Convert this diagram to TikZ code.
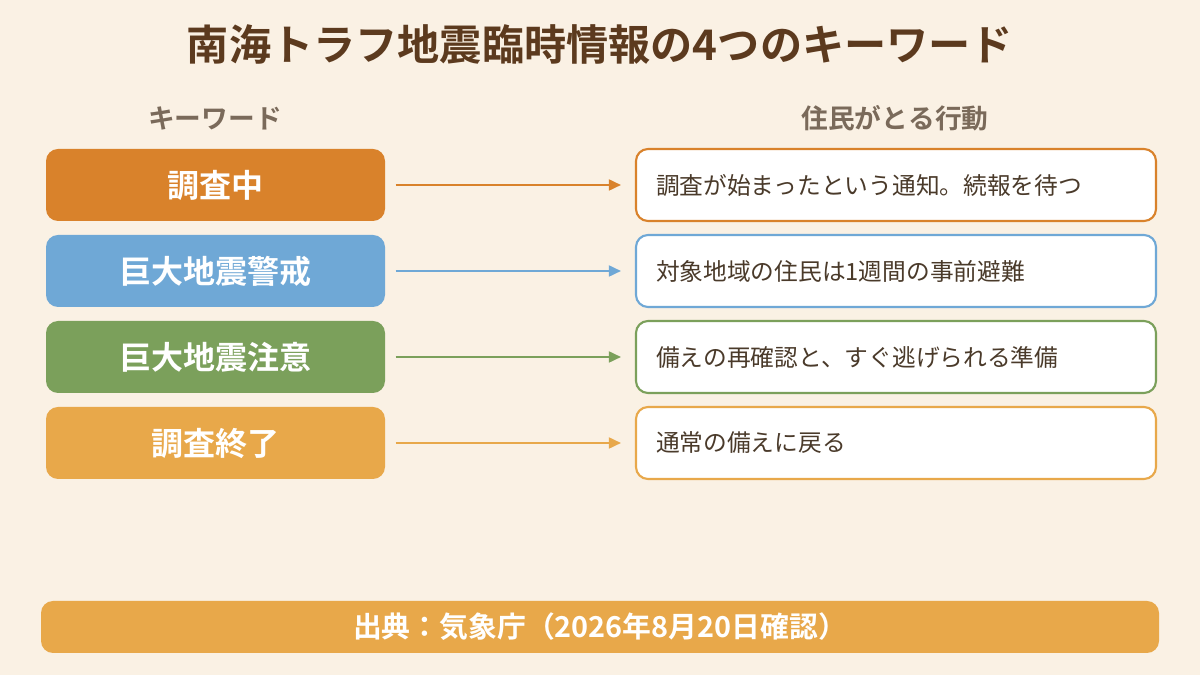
\documentclass[tikz,border=0pt]{standalone}
\usepackage{fontspec}
\setmainfont{Noto Sans CJK JP}
\newfontfamily\jpbold{Noto Sans CJK JP Bold}
\usetikzlibrary{positioning,arrows.meta}
\definecolor{bgcream}{HTML}{FAF1E4}
\definecolor{titlebrown}{HTML}{5C3A1E}
\definecolor{headgray}{HTML}{7A6A5A}
\definecolor{textdark}{HTML}{4A3A2A}
\definecolor{kworange}{HTML}{D9822B}
\definecolor{kwblue}{HTML}{6FA8D6}
\definecolor{kwgreen}{HTML}{7BA05B}
\definecolor{kwlight}{HTML}{E8A84A}
\begin{document}
\begin{tikzpicture}[
% Keyword and action boxes
    keyword/.style={rectangle,rounded corners=1.2mm,fill=#1,text=white,
		minimum width=3.39cm,minimum height=0.72cm,
		font=\jpbold\fontsize{9.1pt}{10pt}\selectfont},
    action/.style={rectangle,rounded corners=1.2mm,draw=#1,line width=0.6pt,
		fill=white,text=textdark,minimum width=5.2cm,minimum height=0.72cm,
		text width=4.8cm,align=left,font=\fontsize{6.75pt}{8pt}\selectfont},
    link/.style={-{Triangle[length=1.2mm,width=1.1mm]},line width=0.5pt,draw=#1},
    header/.style={text=headgray,font=\jpbold\fontsize{7.6pt}{9pt}\selectfont}
    ]
%% Background
    \fill[bgcream] (0,0) rectangle (12,6.75);
    \useasboundingbox (0,0) rectangle (12,6.75);
%% Title and headers
    \node (title) [text=titlebrown,font=\jpbold\fontsize{12pt}{14pt}\selectfont]
		at (6,6.30) {南海トラフ地震臨時情報の4つのキーワード};
    \node (hkey) [header] at (2.15,5.57) {キーワード};
    \node (hact) [header] at (8.95,5.57) {住民がとる行動};
%% Keywords and actions
    \node (k1) [keyword=kworange] at (2.155,4.90) {調査中};
    \node (k2) [keyword=kwblue]   at (2.155,4.04) {巨大地震警戒};
    \node (k3) [keyword=kwgreen]  at (2.155,3.18) {巨大地震注意};
    \node (k4) [keyword=kwlight]  at (2.155,2.32) {調査終了};
    \node (a1) [action=kworange] at (8.96,4.90) {調査が始まったという通知。続報を待つ};
    \node (a2) [action=kwblue]   at (8.96,4.04) {対象地域の住民は1週間の事前避難};
    \node (a3) [action=kwgreen]  at (8.96,3.18) {備えの再確認と、すぐ逃げられる準備};
    \node (a4) [action=kwlight]  at (8.96,2.32) {通常の備えに戻る};
%% Arrows
    \draw[link=kworange] ([xshift=1mm]k1.east) -- ([xshift=-1.4mm]a1.west);
    \draw[link=kwblue]   ([xshift=1mm]k2.east) -- ([xshift=-1.4mm]a2.west);
    \draw[link=kwgreen]  ([xshift=1mm]k3.east) -- ([xshift=-1.4mm]a3.west);
    \draw[link=kwlight]  ([xshift=1mm]k4.east) -- ([xshift=-1.4mm]a4.west);
%% Source
    \node (src) [rectangle,rounded corners=1.2mm,fill=kwlight,text=white,
		minimum width=11.18cm,minimum height=0.52cm,
		font=\jpbold\fontsize{8.2pt}{9pt}\selectfont]
		at (6,0.48) {出典：気象庁（2026年8月20日確認）};
\end{tikzpicture}
\end{document}
